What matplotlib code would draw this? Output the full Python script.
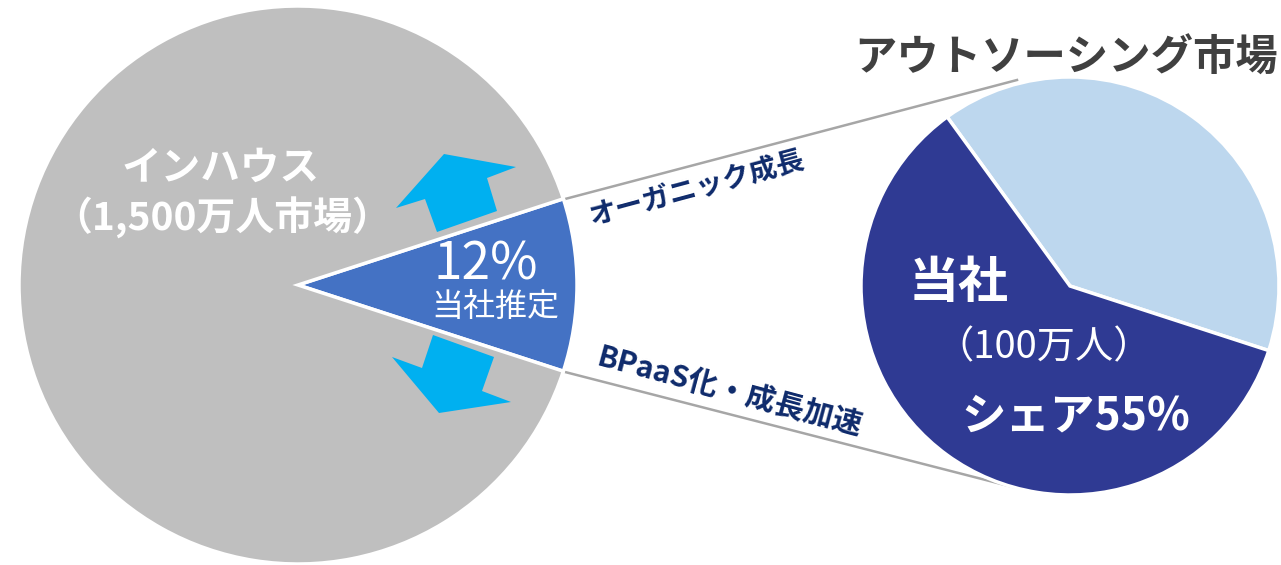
import matplotlib
matplotlib.use("Agg")
import matplotlib.pyplot as plt
from matplotlib.patches import Polygon

plt.rcParams['font.family'] = ['Noto Sans CJK JP', 'DejaVu Sans']

# ---- data ----
inhouse_labels = ["当社推定", "インハウス"]
inhouse_sizes = [10, 90]          # wedge sizes as drawn in the picture
inhouse_share_text = "12%"
inhouse_market_text = "（1,500万人市場）"

outsourcing_labels = ["その他", "当社"]
outsourcing_sizes = [40, 60]      # wedge sizes as drawn in the picture
outsourcing_share_text = "シェア55%"
company_people_text = "（100万人）"

# ---- figure ----
W, H = 1281, 565
fig = plt.figure(figsize=(W / 100, H / 100), dpi=100)
ax = fig.add_axes([0, 0, 1, 1])

GRAY = "#BFBFBF"
BLUE = "#4472C4"
DARK = "#2F3A93"
LIGHT = "#BDD7EE"
CYAN = "#00B0F0"
NAVY = "#0E2A6B"

# left pie
left_center, left_r = (298, 280), 279
ax.pie(inhouse_sizes, colors=[BLUE, GRAY], center=left_center, radius=left_r,
       startangle=-inhouse_sizes[0] * 3.6 / 2, counterclock=True,
       wedgeprops=dict(edgecolor="white", linewidth=2.5), frame=True)

# right pie
right_center, right_r = (1070, 279), 209
ax.pie(outsourcing_sizes, colors=[LIGHT, DARK], center=right_center, radius=right_r,
       startangle=-18, counterclock=True,
       wedgeprops=dict(edgecolor="white", linewidth=2.5), frame=True)

# connector lines
ax.plot([565, 1017], [366, 485], color="#A6A6A6", lw=1.8, zorder=0.5)
ax.plot([565, 1013], [193, 78], color="#A6A6A6", lw=1.8, zorder=0.5)

# arrows
up_arrow = [(444, 411), (516, 398), (487, 387), (497, 354), (437, 333), (425, 366), (396, 357)]
down_arrow = [(433, 230), (494, 208), (482, 174), (511, 163), (439, 152), (392, 208), (422, 197)]
for pts in (up_arrow, down_arrow):
    ax.add_patch(Polygon(pts, closed=True, facecolor=CYAN, edgecolor="none", zorder=3))

# texts
ax.text(1066, 506, "アウトソーシング市場", fontsize=30.5, fontweight="bold", color="#404040",
        ha="center", va="center")
ax.text(221, 397, inhouse_labels[1], fontsize=28.5, fontweight="bold", color="white",
        ha="center", va="center", zorder=4)
ax.text(222, 347, inhouse_market_text, fontsize=28, fontweight="bold", color="white",
        ha="center", va="center", zorder=4)
ax.text(486, 300, inhouse_share_text, fontsize=37, color="white",
        ha="center", va="center", zorder=4)
ax.text(495, 258, inhouse_labels[0], fontsize=23, color="white",
        ha="center", va="center", zorder=4)
ax.text(697, 376, "オーガニック成長", fontsize=20, fontweight="bold", color=NAVY,
        ha="center", va="center", rotation=15, rotation_mode="anchor", zorder=4)
ax.text(729, 173, "BPaaS化・成長加速", fontsize=21.5, fontweight="bold", color=NAVY,
        ha="center", va="center", rotation=-15, rotation_mode="anchor", zorder=4)
ax.text(959, 281, outsourcing_labels[1], fontsize=36, fontweight="bold", color="white",
        ha="center", va="center", zorder=4)
ax.text(1044, 217, company_people_text, fontsize=27.5, color="white",
        ha="center", va="center", zorder=4)
ax.text(1076, 148, outsourcing_share_text, fontsize=32, fontweight="bold", color="white",
        ha="center", va="center", zorder=4)

ax.set_xlim(0, W)
ax.set_ylim(0, H)
ax.set_aspect("equal")
ax.axis("off")

fig.savefig("out.png", dpi=100, facecolor="white")
